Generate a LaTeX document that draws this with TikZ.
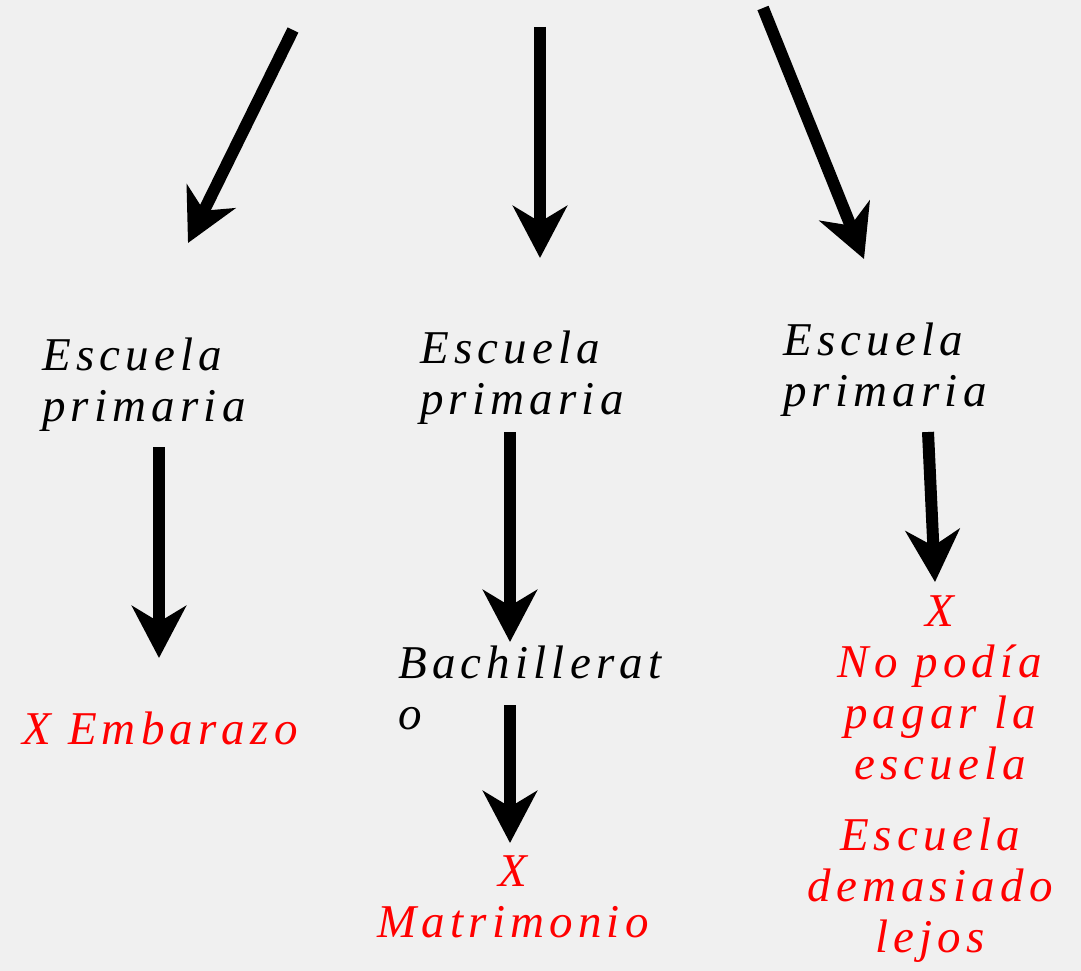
\documentclass[tikz,border=0pt]{standalone}
\usepackage{fontspec}
\setmainfont{Liberation Serif}
\newfontfamily\hand[LetterSpace=11]{Liberation Serif Italic}
\usetikzlibrary{arrows.meta}
\definecolor{bg}{HTML}{F0F0F0}
\tikzset{
  big/.style={line width=12pt,-{Stealth[length=52pt,width=54pt,inset=16pt]}},
  lbl/.style={inner sep=0pt,font=\hand\fontsize{47}{51}\selectfont,text=black},
  red/.style={lbl,text=red,align=center}
}
\begin{document}
\begin{tikzpicture}[x=1pt,y=-1pt]
\fill[bg] (0,0) rectangle (1081,971);
\useasboundingbox (0,0) rectangle (1081,971);
% top arrow start coordinates
\coordinate (s1) at (293,30);
\coordinate (s2) at (540,27);
\coordinate (s3) at (763,8);
\coordinate (t1) at (188,243);
\coordinate (t2) at (540,258);
\coordinate (t3) at (864,259);
\draw[big] (s1) -- (t1);
\draw[big] (s2) -- (t2);
\draw[big] (s3) -- (t3);
% primary school nodes
\node[lbl,align=left,anchor=west] (p1) at (42,385) {Escuela\\primaria};
\node[lbl,align=left,anchor=west] (p2) at (420,378) {Escuela\\primaria};
\node[lbl,align=left,anchor=west] (p3) at (783,370) {Escuela\\primaria};
% second level
\node[lbl,align=left,anchor=north west] (bach) at (398,646) {Bachillerat\\o};
\node[red,anchor=center] (emb) at (160,728) {X Embarazo};
\node[red,anchor=north] (pag) at (940,596) {X\\No podía\\pagar la\\escuela};
\node[red,anchor=north] (lej) at (930,818) {Escuela\\demasiado\\lejos};
\node[red,anchor=north] (mat) at (513,856) {X\\Matrimonio};
% lower arrows
\coordinate (b1s) at (159,447);
\coordinate (b1e) at (159,658);
\coordinate (b2s) at (510,432);
\coordinate (b2e) at (510,642);
\coordinate (b3s) at (928,432);
\coordinate (b3e) at (935,582);
\coordinate (b4s) at (510,705);
\coordinate (b4e) at (510,843);
\draw[big] (b1s) -- (b1e);
\draw[big] (b2s) -- (b2e);
\draw[big] (b3s) -- (b3e);
\draw[big] (b4s) -- (b4e);
\end{tikzpicture}
\end{document}
